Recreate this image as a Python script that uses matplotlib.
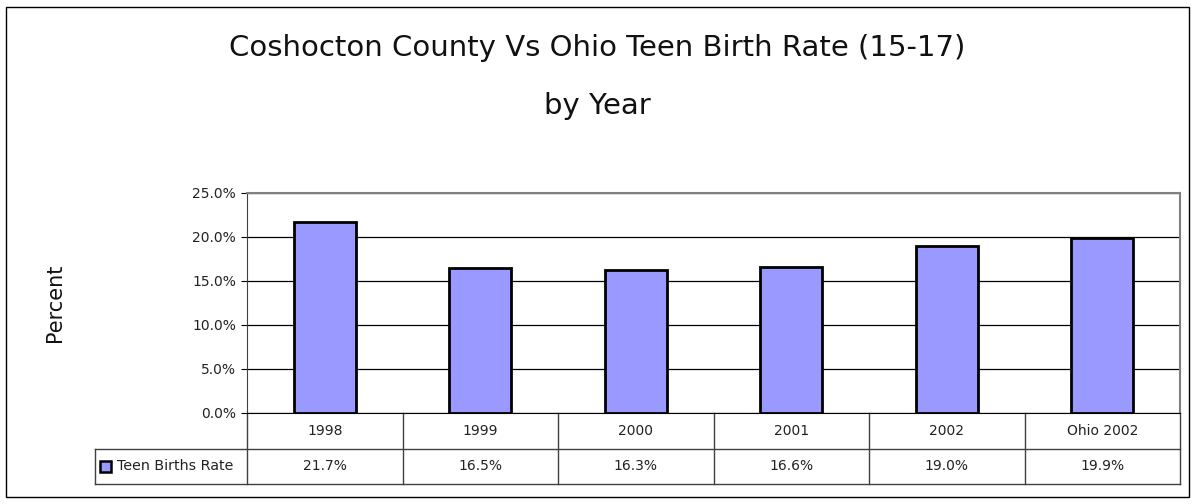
import matplotlib.pyplot as plt
from matplotlib.patches import Rectangle
from matplotlib.ticker import PercentFormatter

years = ['1998', '1999', '2000', '2001', '2002', 'Ohio 2002']
rates = [21.7, 16.5, 16.3, 16.6, 19.0, 19.9]
series_name = 'Teen Births Rate'
bar_color = '#9999FF'

W, H = 1194, 504
fig = plt.figure(figsize=(W / 100, H / 100), dpi=100)
fig.patch.set_facecolor('white')

# outer chart border
fig.patches.append(Rectangle((6 / W, 7 / H), (1189 - 6) / W, (497 - 7) / H,
                             transform=fig.transFigure, fill=False,
                             edgecolor='black', lw=1))

left, right, top, bottom = 247, 1180, 193, 413
ax = fig.add_axes([left / W, 1 - bottom / H, (right - left) / W, (bottom - top) / H])

n = len(years)
x = range(n)
ax.bar(x, rates, width=0.4, color=bar_color, edgecolor='black', lw=2, zorder=3)
ax.set_xlim(-0.5, n - 0.5)
ax.set_ylim(0, 25)
ax.set_yticks([0, 5, 10, 15, 20, 25])
ax.yaxis.set_major_formatter(PercentFormatter(decimals=1))
ax.tick_params(axis='y', labelsize=10, length=4, direction='out', pad=4,
               labelcolor='#222222')
ax.set_xticks([])
ax.yaxis.grid(True, color='black', lw=0.9)
ax.set_axisbelow(True)
for s in ['top', 'right']:
    ax.spines[s].set_color('#808080')
    ax.spines[s].set_linewidth(1.5)
ax.spines['left'].set_color('#404040')
ax.spines['bottom'].set_color('black')

ax.set_ylabel('Percent', fontsize=15, color='#111111')
ax.yaxis.set_label_coords((65 - left) / (right - left), 0.5)

fig.text(0.5, 1 - 48 / H, 'Coshocton County Vs Ohio Teen Birth Rate (15-17)',
         ha='center', va='center', fontsize=21, color='#111111')
fig.text(0.5, 1 - 106 / H, 'by Year', ha='center', va='center', fontsize=21,
         color='#111111')

# data table below the axis (x in data units, y in axes units)
tr = ax.get_xaxis_transform()
unit = (right - left) / n
lab_left = -0.5 - (left - 95) / unit
rh = 35.5 / (bottom - top)
y0, y1, y2 = 0, -rh, -2 * rh
lc = '#404040'
line_kw = dict(transform=tr, clip_on=False, color=lc, lw=1)
ax.plot([lab_left, n - 0.5], [y1, y1], **line_kw)
ax.plot([lab_left, n - 0.5], [y2, y2], **line_kw)
ax.plot([lab_left, lab_left], [y1, y2], **line_kw)
for b in [i - 0.5 for i in range(n + 1)]:
    ax.plot([b, b], [y0, y2], **line_kw)
for i, (yr, r) in enumerate(zip(years, rates)):
    ax.text(i, (y0 + y1) / 2, yr, transform=tr, ha='center', va='center',
            fontsize=10, color='#222222')
    ax.text(i, (y1 + y2) / 2, f'{r:.1f}%', transform=tr, ha='center',
            va='center', fontsize=10, color='#222222')
ax.text(lab_left + 22 / unit, (y1 + y2) / 2, series_name, transform=tr,
        ha='left', va='center', fontsize=10.3, color='#222222')

# legend key in the row label cell
fig.patches.append(Rectangle((100 / W, 1 - 472 / H), 11 / W, 11 / H,
                             transform=fig.transFigure, facecolor=bar_color,
                             edgecolor='black', lw=1.8))

fig.savefig('out.png', dpi=100)
